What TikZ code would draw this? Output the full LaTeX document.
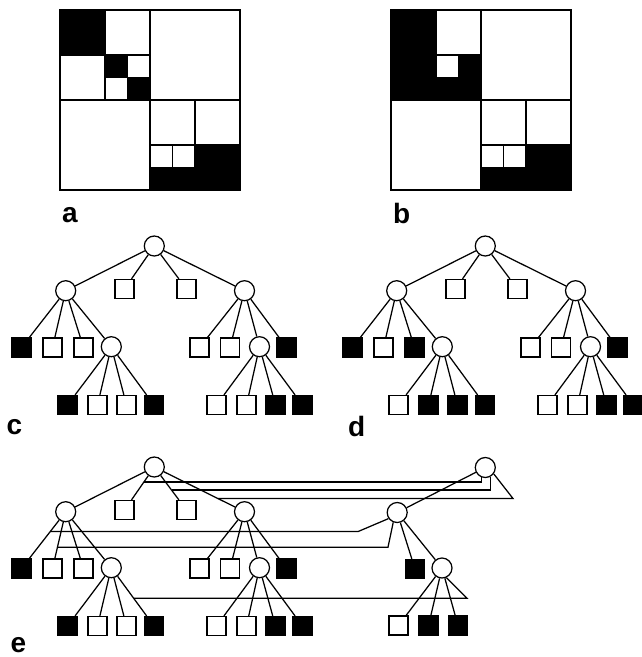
\documentclass[tikz,border=0pt]{standalone}
\usepackage{fontspec}
\setmainfont{Liberation Sans}
\usetikzlibrary{calc}
\tikzset{
 circ/.style={circle,draw,fill=white,minimum size=20pt,inner sep=0pt,line width=1.25pt},
 wsq/.style={rectangle,draw,fill=white,minimum size=19pt,inner sep=0pt,line width=1.25pt},
 bsq/.style={wsq,fill=black},
 link/.style={line width=1.25pt},
 lab/.style={font=\bfseries\fontsize{28}{28}\selectfont,anchor=base,inner sep=0pt},
 cellw/.style={draw,fill=white,line width=1.4pt},
 cellb/.style={draw,fill=black,line width=1.4pt}
}
\newcommand\mytreedraw[5]{%
 \node[circ] (#1root) at (154.3,246) {};
 \node[circ] (#1L) at (65.7,290.7) {};
 \node[wsq] (#1s1) at (124.5,289) {};
 \node[wsq] (#1s2) at (186.5,289) {};
 \node[circ] (#1R) at (244.5,290.7) {};
 \node[bsq] (#1La) at (21.5,347.5) {};
 \node[wsq] (#1Lb) at (52.5,347.5) {};
 \node[#2] (#1Lc) at (83.5,347.5) {};
 \node[circ] (#1LL) at (111.3,346.7) {};
 \node[wsq] (#1Ra) at (199.5,347.5) {};
 \node[wsq] (#1Rb) at (230,347.5) {};
 \node[circ] (#1RR) at (259.5,346.7) {};
 \node[bsq] (#1Rd) at (286.5,347.5) {};
 \node[#3] (#1LLa) at (67.5,405) {};
 \node[#4] (#1LLb) at (97.5,405) {};
 \node[#5] (#1LLc) at (126.5,405) {};
 \node[bsq] (#1LLd) at (154,405) {};
 \node[wsq] (#1RRa) at (216.5,405) {};
 \node[wsq] (#1RRb) at (246.5,405) {};
 \node[bsq] (#1RRc) at (275.5,405) {};
 \node[bsq] (#1RRd) at (302.5,405) {};
 \foreach \p/\q in {root/L,root/s1,root/s2,root/R,L/La,L/Lb,L/Lc,L/LL,R/Ra,R/Rb,R/RR,R/Rd,LL/LLa,LL/LLb,LL/LLc,LL/LLd,RR/RRa,RR/RRb,RR/RRc,RR/RRd}{\draw[link] (#1\p) -- (#1\q);}
}
\newcommand\mycommonquads{%
 \path[cellw] (150,10) rectangle (240,100);
 \path[cellw] (60,100) rectangle (150,190);
 \path[cellw] (150,100) rectangle (195,145);
 \path[cellw] (195,100) rectangle (240,145);
 \path[cellw] (150,145) rectangle (172.5,167.5);
 \path[cellw] (172.5,145) rectangle (195,167.5);
 \path[cellb] (150,167.5) rectangle (172.5,190);
 \path[cellb] (172.5,167.5) rectangle (195,190);
 \path[cellb] (195,145) rectangle (240,190);
}
\begin{document}
\begin{tikzpicture}[x=1pt,y=-1pt]
\useasboundingbox (0,0) rectangle (641,657);
% panel a
\path[cellb] (60,10) rectangle (105,55);
\path[cellw] (105,10) rectangle (150,55);
\path[cellw] (60,55) rectangle (105,100);
\path[cellb] (105,55) rectangle (127.5,77.5);
\path[cellw] (127.5,55) rectangle (150,77.5);
\path[cellw] (105,77.5) rectangle (127.5,100);
\path[cellb] (127.5,77.5) rectangle (150,100);
\mycommonquads
\draw[line width=1.6pt] (60,10) rectangle (240,190);
% panel b
\begin{scope}[shift={(331,0)}]
\path[cellb] (60,10) rectangle (150,100);
\path[cellw] (105,10) rectangle (150,55);
\path[cellw] (105,55) rectangle (127.5,77.5);
\mycommonquads
\draw[line width=1.6pt] (60,10) rectangle (240,190);
\end{scope}
% labels
\node[lab] (la) at (70,222) {a};
\node[lab] (lb) at (401.7,223) {b};
\node[lab] (lc) at (14.5,434) {c};
\node[lab] (ld) at (356.7,436) {d};
\node[lab] (le) at (18.3,652) {e};
% tree c
\mytreedraw{c}{wsq}{bsq}{wsq}{wsq}
% tree d
\begin{scope}[shift={(331,0)}]
\mytreedraw{d}{bsq}{wsq}{bsq}{bsq}
\end{scope}
% tree e (old part)
\begin{scope}[shift={(0,221)}]
\mytreedraw{e}{wsq}{bsq}{wsq}{wsq}
\end{scope}
% tree e (new part)
\node[circ] (nroot) at (485.3,467.5) {};
\node[circ] (emid) at (397.2,512.5) {};
\node[bsq] (nb) at (415,569) {};
\node[circ] (nlow) at (442,568) {};
\node[wsq] (nw) at (398.5,625.5) {};
\node[bsq] (nb1) at (428.5,625.5) {};
\node[bsq] (nb2) at (458,625.5) {};
\draw[link] (nroot) -- (emid);
\draw[link] (emid) -- (nb);
\draw[link] (emid) -- (nlow);
\draw[link] (nlow) -- (nw);
\draw[link] (nlow) -- (nb1);
\draw[link] (nlow) -- (nb2);
% shared-child connectors
\coordinate (j1) at ($(eroot)!0.35!(es1)$);
\coordinate (j2) at ($(eroot)!0.535!(es2)$);
\coordinate (j3) at ($(eroot)!0.705!(eR)$);
\coordinate (j4) at ($(eL)!0.35!(eLa)$);
\coordinate (j5) at ($(eL)!0.625!(eLb)$);
\coordinate (j6) at ($(eLL)!0.525!(eLLd)$);
\coordinate (k3) at (513,0);
\coordinate (k4) at (358,0);
\coordinate (k5) at (388,0);
\coordinate (k6) at (467,0);
\draw[link] (nroot.-110) |- (j1);
\draw[link] (nroot.-62) |- (j2);
\draw[link] (nroot.-37) -- (j3 -| k3) -- (j3);
\draw[link] (emid.-145) -- (j4 -| k4) -- (j4);
\draw[link] (emid.-112) -- (j5 -| k5) -- (j5);
\draw[link] (nlow.-65) -- (j6 -| k6) -- (j6);
\end{tikzpicture}
\end{document}
